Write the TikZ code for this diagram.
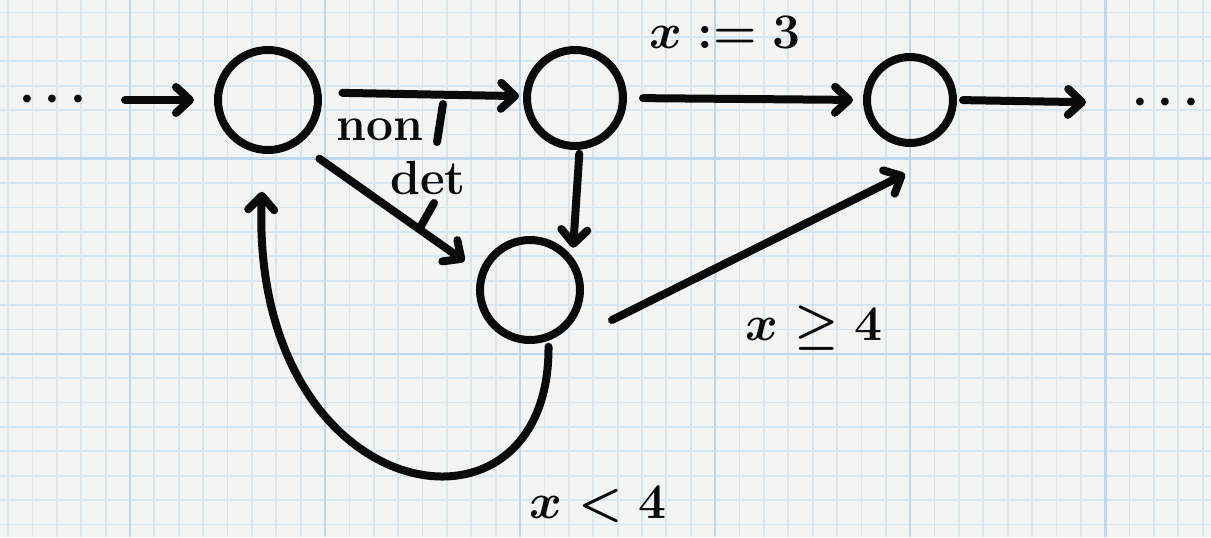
\documentclass[tikz,border=0pt]{standalone}
\usepackage{amsmath,amssymb}
\usepackage{tikz}
\usetikzlibrary{
    arrows.meta,
    positioning,
    calc
}
\definecolor{gpPaper}{HTML}{F4F4F3}
\definecolor{gpGrid}{HTML}{D6E7F4}
\definecolor{gpGridMajor}{HTML}{BCD7EE}
\definecolor{gpInk}{HTML}{0A0A0A}
\tikzset{
    stState/.style={
        draw=gpInk,
        circle,
        inner sep=0pt,
        minimum size=50pt,
        line width=4pt
    },
    stArrow/.style={
        -{Straight Barb[length=7pt,width=13pt,round]},
        line width=4pt,
        line cap=round,
        draw=gpInk
    },
    stTick/.style={line width=4pt,line cap=round,draw=gpInk},
    stLabel/.style={
        text=gpInk,
        inner sep=0pt,
        font=\fontsize{36}{38}\selectfont\boldmath
    },
    stSmall/.style={
        text=gpInk,
        inner sep=0pt,
        font=\fontsize{24}{26}\selectfont\bfseries
    }
}

\begin{document}
\begin{tikzpicture}[x=0.5pt,y=-0.5pt]
    \useasboundingbox (0,0) rectangle (1211,537);
    % paper
    \fill[gpPaper] (0,0) rectangle (1211,537);
    \foreach \k in {0,...,49}
        \draw[gpGrid,line width=0.9pt] ({8.1+24.38*\k},0) -- ({8.1+24.38*\k},537);
    \foreach \k in {0,...,21}
        \draw[gpGrid,line width=0.9pt] (0,{12.5+24.38*\k}) -- (1211,{12.5+24.38*\k});
    \foreach \k in {5,13,...,45}
        \draw[gpGridMajor,line width=1.3pt] ({8.1+24.38*\k},0) -- ({8.1+24.38*\k},537);
    \foreach \k in {6,14}
        \draw[gpGridMajor,line width=1.3pt] (0,{12.5+24.38*\k}) -- (1211,{12.5+24.38*\k});

    % states
    \node[stState] (a) at (268,100) {};
    \node[stState,minimum size=48pt] (b) at (575,98) {};
    \node[stState,minimum size=43pt] (c) at (910,100) {};
    \node[stState] (d) at (530,290) {};

    \node[stSmall,anchor=east,font=\fontsize{28}{30}\selectfont] (ldots) at (96,100) {$\boldsymbol{\cdots}$};
    \node[stSmall,anchor=west,font=\fontsize{28}{30}\selectfont] (rdots) at (1132,103) {$\boldsymbol{\cdots}$};

    % transitions
    \draw[stArrow,shorten <=14.5pt,shorten >=10pt] (ldots.east) -- (a.180);
    \draw[stArrow,shorten <=10.5pt,shorten >=2pt] (a.8) -- (b.178);
    \draw[stArrow,shorten <=8pt,shorten >=5pt] (b.0) -- (c.180);
    \draw[stArrow,shorten <=3pt,shorten >=23pt] (c.0) -- (rdots.west);
    \draw[stArrow,shorten <=12.5pt,shorten >=9pt] (a.-55) -- (d.160);
    \draw[stArrow,shorten <=2pt,shorten >=4.5pt] (b.-85) -- (d.38);
    \draw[stArrow] ($(d.east)+(28,30)$) -- ($(c.south)+(-5,27)$);
    \draw[stArrow,shorten <=3pt,shorten >=19pt] (d.-70)
        .. controls (550,560) and (250,510) .. (a.-95);

    % labels
    \node[stLabel] (lassign) at (725,32) {$x:=3$};
    \node[stLabel] (lge) at (814,328) {$x\geq 4$};
    \node[stLabel] (llt) at (598,505) {$x<4$};
    \node[stSmall] (lnon) at (380,130) {non};
    \node[stSmall] (ldet) at (428,178) {det};
    \draw[stTick] (443,104) -- (437,142);
    \draw[stTick] (434,203) -- (421,226);
\end{tikzpicture}
\end{document}
